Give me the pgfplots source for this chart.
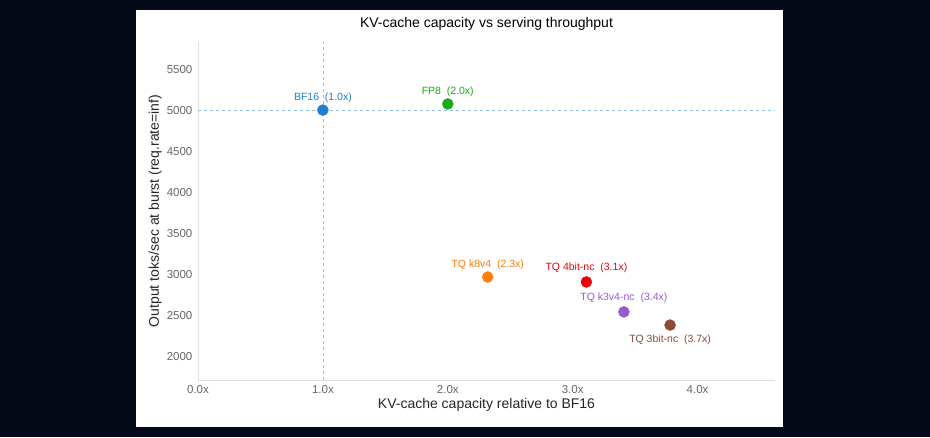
\documentclass[border=0pt]{standalone}
\usepackage{pgfplots}
\pgfplotsset{compat=1.18}
\usepackage{fontspec}
\setmainfont{Liberation Sans}
\definecolor{bg}{HTML}{050A18}
\definecolor{cB}{HTML}{1F7FD0}
\definecolor{cG}{HTML}{1AAA1A}
\definecolor{cO}{HTML}{FF7F0E}
\definecolor{cR}{HTML}{E8000B}
\definecolor{cP}{HTML}{9B59D0}
\definecolor{cN}{HTML}{8C4A3A}
\begin{document}
\begin{tikzpicture}[x=1pt,y=1pt]
\fill[bg] (0,0) rectangle (930,437);
\fill[white] (136,10) rectangle (783,427);
\begin{axis}[at={(198pt,57pt)},anchor=south west,
  width=577pt,height=338pt,scale only axis,
  xmin=0,xmax=4.62,ymin=1710,ymax=5830,
  axis x line=bottom, axis y line=left,
  axis line style={black!12,-},
  tick style={draw=none},
  xtick={0,1,2,3,4},xticklabels={0.0x,1.0x,2.0x,3.0x,4.0x},
  ytick={2000,2500,...,5500},
  yticklabel style={/pgf/number format/1000 sep={}},
  /pgf/number format/assume math mode=true,
  tick label style={font=\fontsize{11.5}{13}\selectfont,text=black!60},
  xlabel={KV-cache capacity relative to BF16},
  ylabel={Output toks/sec at burst (req.rate=inf)},
  label style={font=\fontsize{14}{16}\selectfont,text=black!85},
  xlabel style={yshift=2pt},
  ylabel style={yshift=-2pt},
  title={KV-cache capacity vs serving throughput},
  title style={font=\fontsize{14}{16}\selectfont,yshift=2pt},
  clip=false,
  nodes near coords, point meta=explicit symbolic,
  every node near coord/.append style={font=\fontsize{10.5}{12}\selectfont,anchor=south,yshift=4pt},
]
\draw[cB!50,dashed] (axis cs:1,1710) -- (axis cs:1,5830);
\draw[cB!50,dashed] (axis cs:0,5000) -- (axis cs:4.62,5000);
\addplot[only marks,mark=*,mark size=5.5pt,cB,every node near coord/.append style={text=cB}] coordinates {(1.0,5000)[BF16 \ (1.0x)]};
\addplot[only marks,mark=*,mark size=5.5pt,cG,every node near coord/.append style={text=cG}] coordinates {(2.0,5075)[FP8 \ (2.0x)]};
\addplot[only marks,mark=*,mark size=5.5pt,cO,every node near coord/.append style={text=cO}] coordinates {(2.32,2965)[TQ k8v4 \ (2.3x)]};
\addplot[only marks,mark=*,mark size=5.5pt,cR,every node near coord/.append style={text=cR,yshift=2pt}] coordinates {(3.11,2905)[TQ 4bit-nc \ (3.1x)]};
\addplot[only marks,mark=*,mark size=5.5pt,cP,every node near coord/.append style={text=cP,yshift=2pt}] coordinates {(3.41,2540)[TQ k3v4-nc \ (3.4x)]};
\addplot[only marks,mark=*,mark size=5.5pt,cN,every node near coord/.append style={text=cN,anchor=north,yshift=-10pt}] coordinates {(3.78,2380)[TQ 3bit-nc \ (3.7x)]};
\end{axis}
\end{tikzpicture}
\end{document}
